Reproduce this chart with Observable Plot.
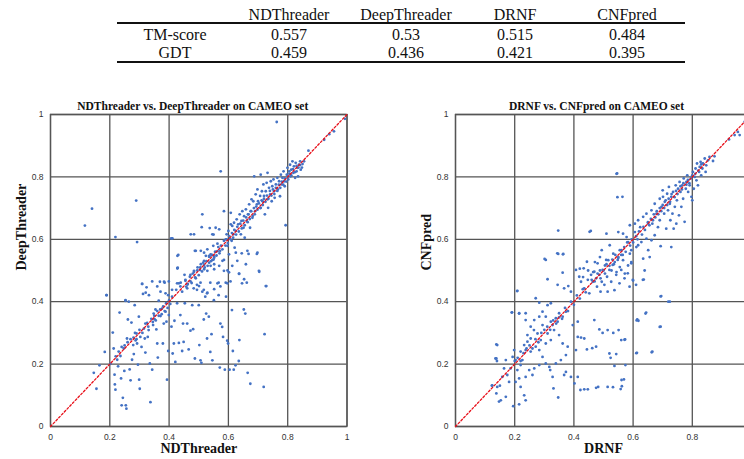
<!DOCTYPE html>
<html><head><meta charset="utf-8">
<script src="https://cdn.jsdelivr.net/npm/d3@7"></script>
<script src="https://cdn.jsdelivr.net/npm/@observablehq/plot@0.6"></script>
<style>
html,body{margin:0;padding:0;background:#fff;overflow:hidden;}
#wrap{position:relative;width:744px;height:459px;overflow:hidden;background:#fff;}
.abs{position:absolute;}
.tbl{font-family:"Liberation Serif","Times New Roman",serif;font-size:16px;color:#111;}
.tbl div{position:absolute;transform:translate(-50%,-50%);white-space:nowrap;}
.rule{position:absolute;height:2px;background:#111;}
</style></head>
<body><div id="wrap"></div>
<script>
// ---- table data ----
const tableMethods = ["NDThreader", "DeepThreader", "DRNF", "CNFpred"];
const tableRows = ["TM-score", "GDT"];
const tmScores = ["0.557", "0.53", "0.515", "0.484"];
const gdtScores = ["0.459", "0.436", "0.421", "0.395"];

// ---- chart labels ----
const leftTitle = "NDThreader vs. DeepThreader on CAMEO set";
const rightTitle = "DRNF vs. CNFpred on CAMEO set";
const leftXLabel = "NDThreader", leftYLabel = "DeepThreader";
const rightXLabel = "DRNF", rightYLabel = "CNFpred";
const tickValues = [0, 0.2, 0.4, 0.6, 0.8, 1];
const rightXTicks = [0, 0.2, 0.4, 0.6, 0.8]; // "1" falls outside the picture
const diagonal = [0, 1];

// ---- NDThreader (x) vs DeepThreader (y) ----
const leftPoints = [
[.146,.172],[.155,.121],[.165,.196],[.183,.239],[.189,.421],[.202,.201],[.21,.301],[.213,.25],[.216,.166],[.217,.135],
[.219,.118],[.225,.214],[.228,.193],[.233,.365],[.236,.226],[.238,.154],[.24,.068],[.244,.092],[.249,.178],[.253,.405],
[.254,.068],[.256,.057],[.247,.25],[.258,.282],[.261,.343],[.264,.40],[.267,.183],[.27,.148],[.273,.333],[.275,.214],
[.279,.261],[.281,.232],[.284,.389],[.287,.276],[.29,.298],[.292,.266],[.295,.198],[.298,.352],[.299,.15],[.301,.121],
[.303,.287],[.307,.255],[.309,.457],[.312,.425],[.315,.314],[.318,.282],[.32,.237],[.324,.446],[.326,.332],[.328,.287],
[.331,.309],[.335,.202],[.337,.078],[.343,.182],[.346,.325],[.348,.362],[.351,.344],[.354,.375],[.357,.311],[.36,.266],
[.362,.221],[.365,.403],[.369,.464],[.371,.354],[.376,.378],[.379,.266],[.382,.33],[.385,.461],[.388,.368],[.391,.336],
[.393,.15],[.397,.242],[.399,.357],[.404,.393],[.408,.32],[.41,.416],[.412,.234],[.416,.266],[.418,.339],[.421,.207],
[.424,.438],[.427,.395],[.433,.268],[.438,.357],[.444,.242],[.447,.33],[.449,.271],[.453,.395],[.458,.448],[.461,.33],
[.466,.247],[.472,.307],[.478,.389],[.481,.312],[.487,.218],[.494,.438],[.5,.389],[.502,.261],[.506,.212],[.509,.204],
[.517,.343],[.522,.416],[.525,.362],[.528,.282],[.534,.352],[.539,.239],[.543,.296],[.546,.212],[.551,.405],[.567,.421],
[.571,.189],[.573,.33],[.579,.319],[.582,.287],[.588,.182],[.592,.416],[.596,.275],[.599,.266],[.604,.182],[.612,.373],
[.615,.242],[.618,.182],[.624,.196],[.635,.21],[.637,.277],[.652,.375],[.657,.362],[.665,.172],[.674,.137],[.722,.296],
[.728,.45],[.719,.127],
[.431,.55],[.49,.563],[.518,.557],[.535,.547],[.546,.534],[.552,.52],[.552,.545],[.555,.56],[.563,.562],[.585,.534],
[.597,.50],[.625,.557],[.645,.555],[.668,.553],[.696,.553],[.704,.496],[.726,.45],[.636,.489],[.653,.472],[.662,.461],
[.591,.461],[.563,.459],[.529,.429],[.552,.44],[.309,.457],[.321,.429],[.332,.421],[.383,.464],[.397,.421],[.428,.507],
[.439,.461],[.452,.486],[.472,.486],[.484,.496],[.49,.475],[.461,.443],[.501,.45],[.512,.432],[.504,.502],[.518,.518],
[.433,.459],[.189,.421],[.253,.403],
[.411,.603],[.428,.547],[.428,.507],[.473,.616],[.484,.616],[.487,.563],[.507,.563],[.51,.639],[.512,.68],[.518,.531],
[.524,.547],[.529,.568],[.535,.525],[.54,.552],[.546,.616],[.549,.579],[.552,.541],[.557,.637],[.563,.586],[.569,.632],
[.572,.563],[.574,.818],[.58,.531],[.585,.69],[.591,.6],[.594,.616],[.597,.579],[.6,.627],[.602,.552],[.608,.648],
[.608,.685],[.611,.595],[.613,.643],[.617,.616],[.619,.653],[.621,.573],[.625,.627],[.628,.664],[.63,.531],[.633,.648],
[.636,.49],[.638,.68],[.642,.616],[.644,.659],[.647,.69],[.651,.637],[.653,.674],[.655,.605],[.659,.696],[.662,.659],
[.664,.563],[.666,.68],[.67,.712],[.673,.637],[.675,.69],[.678,.728],[.681,.669],[.684,.722],[.687,.802],[.689,.68],
[.692,.744],[.696,.712],[.698,.557],[.698,.76],[.7,.722],[.703,.499],[.707,.739],[.709,.807],[.709,.701],[.713,.754],
[.715,.722],[.718,.776],[.72,.739],[.723,.68],[.726,.754],[.729,.781],[.732,.813],[.732,.728],[.734,.701],[.737,.765],
[.741,.744],[.743,.786],[.746,.722],[.748,.77],[.752,.792],[.754,.754],[.756,.733],[.76,.776],[.763,.976],[.765,.797],
[.767,.76],[.771,.786],[.774,.738],[.777,.807],[.779,.776],[.782,.797],[.786,.818],[.788,.786],[.79,.77],[.793,.645],
[.797,.807],[.799,.829],[.802,.792],[.805,.818],[.808,.839],[.81,.802],[.812,.823],[.816,.85],[.819,.813],[.821,.834],
[.825,.797],[.827,.845],[.83,.818],[.833,.829],[.835,.802],[.838,.839],[.842,.85],[.844,.823],[.85,.841],[.855,.85],
[.87,.884],[.923,.919],[.94,.937],[.956,.946],[.993,.986],
[.484,.499],[.496,.51],[.507,.52],[.518,.504],[.529,.499],[.54,.515],[.552,.504],[.569,.515],[.585,.499],[.602,.494],
[.613,.515],[.659,.52],
[.116,.644],[.14,.698],[.219,.607],[.289,.724],[.292,.591],[.407,.603],[.55,.615],[.429,.509],[.537,.636],[.535,.544],
[.343,.465],[.36,.449],[.371,.432],[.388,.427],[.399,.465],[.41,.438],[.427,.459],[.438,.449],[.444,.432],[.455,.467],
[.463,.457],[.472,.465],[.483,.443],[.494,.454],[.506,.461],[.517,.438],[.528,.427],[.539,.461],[.567,.461],[.573,.449],
[.596,.459],[.607,.465],[.646,.459],
[.455,.47],[.462,.455],[.47,.48],[.476,.46],[.48,.49],[.488,.478],[.495,.5],[.5,.485],[.505,.51],[.511,.497],
[.515,.525],[.52,.51],[.526,.53],[.53,.515],[.536,.545],[.541,.53],[.545,.55],[.55,.535],[.556,.56],[.56,.548],
[.566,.575],[.57,.555],[.575,.58],[.58,.568],[.585,.595],[.59,.58],[.594,.6],[.598,.588],[.603,.61],[.607,.6],
[.612,.62],[.616,.605],[.62,.63],[.626,.615],[.63,.64],[.635,.625],[.64,.65],[.645,.635],[.65,.66],[.655,.645],
[.66,.67],[.665,.655],[.668,.68],[.672,.665],[.677,.69],[.682,.675],[.686,.7],[.69,.69],[.694,.705],[.698,.695],
[.703,.715],[.708,.7],[.712,.725],[.716,.71],[.72,.73],[.725,.72],[.73,.74],[.735,.73],[.74,.755],[.745,.74],
[.75,.76],[.755,.745],[.76,.765],[.765,.755],[.77,.775],[.775,.765],[.78,.785],[.785,.775],[.79,.795],[.795,.785],
[.8,.8],[.806,.81],[.812,.805],[.818,.825],[.824,.815],[.83,.835],[.836,.83],[.842,.838],[.848,.83],
[.3,.31],[.31,.3],[.32,.33],[.33,.32],[.34,.345],[.345,.335],[.35,.355],[.355,.34],[.36,.37],[.365,.355],
[.37,.375],[.375,.36],[.38,.385],[.385,.37],[.39,.395],[.395,.38],[.4,.405],[.26,.27],[.27,.28],[.28,.285],
[.285,.3],[.29,.28],[.22,.225],[.23,.24],[.24,.255],[.25,.26]
];

// ---- DRNF (x) vs CNFpred (y) ----
const rightPoints = [
[.546,.811],[.564,.736],[.457,.627],[.51,.618],[.55,.623],[.566,.618],[.589,.645],[.606,.65],[.578,.607],[.583,.591],
[.594,.565],[.611,.575],[.628,.591],[.645,.602],[.662,.597],[.673,.613],[.693,.578],[.729,.575],[.634,.538],[.656,.543],
[.639,.5],[.636,.471],[.606,.623],[.624,.639],[.617,.661],[.634,.672],[.645,.682],[.651,.65],[.662,.693],[.667,.661],
[.673,.714],[.679,.682],[.684,.639],[.69,.73],[.69,.661],[.696,.704],[.7,.757],[.701,.736],[.705,.682],[.707,.72],
[.712,.634],[.715,.746],[.718,.693],[.721,.768],[.724,.714],[.726,.661],[.729,.736],[.733,.682],[.735,.752],[.737,.634],
[.741,.704],[.744,.773],[.746,.65],[.748,.725],[.752,.762],[.755,.677],[.757,.784],[.76,.752],[.763,.704],[.766,.773],
[.769,.73],[.771,.795],[.774,.656],[.778,.762],[.78,.784],[.783,.805],[.786,.752],[.791,.773],[.795,.795],[.797,.736],
[.8,.725],[.802,.816],[.805,.762],[.808,.8],[.811,.827],[.814,.789],[.816,.843],[.819,.773],[.823,.816],[.825,.832],
[.828,.848],[.83,.805],[.834,.827],[.836,.843],[.842,.859],[.845,.816],[.847,.837],[.853,.853],[.858,.864],[.87,.851],
[.875,.866],[.924,.92],[.943,.934],[.954,.944],[.96,.934],[.977,.977],
[.42,.506],[.431,.479],[.448,.5],[.465,.495],[.471,.527],[.488,.543],[.488,.5],[.494,.565],[.505,.516],[.516,.533],
[.521,.581],[.527,.5],[.533,.554],[.538,.527],[.544,.495],[.55,.543],[.555,.511],[.561,.565],[.566,.533],[.572,.49],
[.583,.516],[.594,.527],[.6,.468],[.617,.581],[.651,.565],[.589,.554],
[.347,.553],[.364,.553],[.305,.534],[.362,.493],[.311,.472],[.209,.435],[.271,.411],[.283,.397],[.345,.454],[.367,.443],
[.381,.45],[.39,.432],[.407,.502],[.418,.48],[.424,.464],[.433,.507],[.435,.443],[.444,.528],[.447,.47],[.452,.427],
[.458,.486],[.464,.464],[.469,.496],[.475,.475],[.478,.448],[.48,.523],[.486,.486],[.49,.432],[.494,.464],[.497,.502],
[.503,.454],[.509,.534],[.512,.48],[.514,.432],[.52,.502],[.526,.464],[.531,.518],[.537,.437],[.543,.486],[.548,.534],
[.554,.459],[.56,.502],[.565,.55],[.571,.475],[.582,.491],[.588,.448],[.594,.523],[.599,.47],[.61,.454],[.633,.47],
[.695,.418],[.724,.4],[.644,.365],[.614,.343],[.618,.339],[.693,.32],[.665,.24],[.613,.236],[.573,.279],[.56,.277],
[.551,.309],[.533,.3],[.52,.234],[.543,.232],[.574,.197],[.537,.194],[.569,.151],[.562,.129],[.514,.127],[.482,.127],
[.475,.124],[.447,.119],[.435,.119],[.422,.117],[.486,.311],[.497,.3],[.514,.309],[.469,.341],[.475,.256],[.462,.251],
[.444,.247],[.435,.282],[.424,.285],[.413,.287],[.413,.336],[.396,.325],[.407,.245],[.413,.159],[.402,.138],[.39,.159],
[.373,.175],[.367,.165],[.347,.093],[.331,.122],[.328,.159],[.32,.181],[.339,.202],[.356,.213],[.373,.229],[.379,.256],
[.362,.266],[.35,.293],[.333,.309],[.328,.325],[.345,.336],[.362,.352],[.373,.368],[.35,.363],[.339,.347],[.322,.336],
[.305,.352],[.294,.325],[.311,.298],[.322,.277],[.305,.266],[.288,.277],[.277,.298],[.265,.309],[.254,.282],[.243,.272],
[.237,.245],[.254,.24],[.271,.256],[.283,.245],[.294,.223],[.305,.202],[.317,.191],[.283,.197],[.266,.186],[.249,.181],
[.26,.165],[.237,.159],[.22,.197],[.209,.181],[.215,.154],[.203,.143],[.22,.127],[.232,.1],[.237,.084],[.215,.071],
[.195,.065],[.17,.095],[.153,.084],[.138,.106],[.124,.132],[.141,.127],[.158,.159],[.175,.165],[.181,.143],[.186,.186],
[.164,.186],[.138,.218],[.141,.261],[.17,.213],[.193,.223],[.203,.213],[.198,.245],[.22,.24],[.226,.213],[.232,.261],
[.243,.293],[.254,.32],[.266,.341],[.283,.352],[.294,.368],[.191,.366],[.215,.363],[.237,.363],[.237,.341],[.311,.389],
[.322,.395],
[.347,.628],[.301,.537],[.344,.555],[.363,.552],[.453,.624],[.547,.735],[.544,.81],
[.693,.417],[.719,.4],[.69,.319],[.663,.238],[.611,.235],[.612,.34],[.642,.362],[.571,.278],[.561,.149],[.558,.12],
[.532,.126],[.524,.22],[.138,.263],[.135,.218],[.14,.21],[.147,.08],[.15,.131],[.123,.131],[.19,.365],[.208,.434],[.215,.362],
[.46,.47],[.47,.465],[.48,.49],[.49,.475],[.5,.5],[.505,.49],[.51,.52],[.52,.515],[.53,.535],[.535,.52],
[.54,.55],[.55,.54],[.555,.565],[.56,.55],[.57,.575],[.575,.56],[.58,.59],[.59,.58],[.595,.6],[.6,.59],
[.61,.61],[.615,.6],[.62,.625],[.63,.615],[.635,.64],[.64,.63],[.65,.655],[.655,.645],[.66,.665],[.665,.65],
[.67,.68],[.675,.67],[.68,.69],[.685,.68],[.69,.7],[.695,.69],[.7,.71],[.705,.7],[.71,.725],[.715,.71],
[.72,.73],[.725,.72],[.73,.745],[.74,.735],[.745,.755],[.75,.745],[.76,.77],[.765,.76],[.77,.78],[.78,.775],
[.785,.79],[.79,.78],[.8,.805],[.81,.81],[.82,.82],[.83,.84],
[.3,.31],[.31,.32],[.32,.31],[.33,.34],[.34,.33],[.35,.35],[.36,.345],[.37,.38],[.38,.37],[.39,.4],
[.4,.39],[.41,.42],[.42,.41],[.43,.44],[.44,.43],[.25,.26],[.26,.25],[.27,.28],[.28,.27],[.29,.3],
[.2,.21],[.21,.22],[.22,.21],[.23,.235],[.24,.25]
];

const wrap = document.getElementById("wrap");

// ---- table (HTML text) ----
const tbl = document.createElement("div");
tbl.className = "abs tbl";
tbl.style.left = "0px"; tbl.style.top = "0px"; tbl.style.width = "744px"; tbl.style.height = "70px";
const colX = [289, 406, 515, 627];
const rowY = [15, 35, 53];
tableMethods.forEach((m, i) => { const d = document.createElement("div"); d.textContent = m; d.style.left = colX[i] + "px"; d.style.top = rowY[0] + "px"; tbl.appendChild(d); });
[tmScores, gdtScores].forEach((vals, r) => {
  const lab = document.createElement("div"); lab.textContent = tableRows[r]; lab.style.left = "175px"; lab.style.top = rowY[r + 1] + "px"; tbl.appendChild(lab);
  vals.forEach((v, i) => { const d = document.createElement("div"); d.textContent = v; d.style.left = colX[i] + "px"; d.style.top = rowY[r + 1] + "px"; tbl.appendChild(d); });
});
wrap.appendChild(tbl);
[22, 61].forEach(y => { const r = document.createElement("div"); r.className = "rule"; r.style.left = "117px"; r.style.width = "568px"; r.style.top = y + "px"; wrap.appendChild(r); });

function scatter(points, title, xLabel, yLabel, opts) {
  const serif = "Liberation Serif, Times New Roman, serif";
  const sans = "Liberation Sans, Arial, sans-serif";
  return Plot.plot({
    width: opts.width, height: 374,
    marginLeft: opts.ml, marginRight: opts.mr, marginTop: 29, marginBottom: 33,
    style: {background: "transparent", overflow: "visible"},
    x: {domain: [0, 1]},
    y: {domain: [0, 1]},
    marks: [
      Plot.gridX(tickValues, {stroke: "#555", strokeOpacity: 1, strokeWidth: 1.3}),
      Plot.gridY(tickValues, {stroke: "#555", strokeOpacity: 1, strokeWidth: 1.3}),
      Plot.frame({stroke: "#555", strokeWidth: 1.3}),
      Plot.dot(points, {x: d => d[0], y: d => d[1], r: 1.4, fill: "#4472C4", stroke: null}),
      Plot.line(diagonal, {x: d => d, y: d => d, stroke: "#e8101a", strokeWidth: 1.3, strokeDasharray: "2,2"}),
      Plot.axisX(opts.xTicks, {tickSize: 0, tickPadding: 7, tickFormat: d => String(d), label: null, fontSize: 8.5, fontFamily: sans, fill: "#333"}),
      Plot.axisY(tickValues, {tickSize: 0, tickPadding: 7, tickFormat: d => String(d), label: null, fontSize: 8.5, fontFamily: sans, fill: "#333"}),
      Plot.text([title], {frameAnchor: "top", dy: -13, dx: opts.tdx, text: d => d, fontFamily: serif, fontWeight: "bold", fontSize: 11.5, fill: "#111"}),
      Plot.text([xLabel], {frameAnchor: "bottom", dy: 26, text: d => d, fontFamily: serif, fontWeight: "bold", fontSize: 14, fill: "#111"}),
      Plot.text([yLabel], {frameAnchor: "left", dx: -29, rotate: -90, text: d => d, fontFamily: serif, fontWeight: "bold", fontSize: 14, fill: "#111"})
    ]
  });
}

const left = scatter(leftPoints, leftTitle, leftXLabel, leftYLabel, {width: 372, ml: 50, mr: 25.5, tdx: -6, xTicks: tickValues});
left.style.position = "absolute"; left.style.left = "0px"; left.style.top = "85px";
wrap.appendChild(left);

const right = scatter(rightPoints, rightTitle, rightXLabel, rightYLabel, {width: 399, ml: 83, mr: 20, tdx: -7, xTicks: rightXTicks});
right.style.position = "absolute"; right.style.left = "372px"; right.style.top = "85px";
wrap.appendChild(right);
</script></body></html>
